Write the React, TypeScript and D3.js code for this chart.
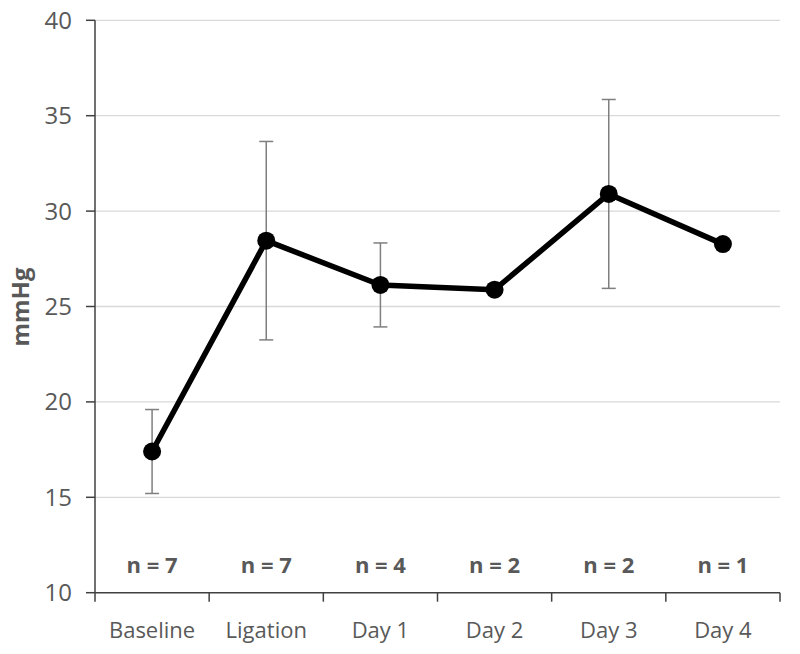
import React from "react";
import * as d3 from "d3";

const categories = ["Baseline", "Ligation", "Day 1", "Day 2", "Day 3", "Day 4"];
const means = [17.4, 28.45, 26.13, 25.88, 30.9, 28.27];
const sds = [2.2, 5.2, 2.2, 0, 4.95, 0];
const nLabels = ["n = 7", "n = 7", "n = 4", "n = 2", "n = 2", "n = 1"];
const yTicks = [10, 15, 20, 25, 30, 35, 40];

const W = 800;
const H = 654;
const left = 95;
const right = 780;
const top = 20.3;
const bottom = 592.7;
const font = "'Open Sans', sans-serif";
const textColor = "#595959";

export default function App() {
  const x = d3.scaleBand<string>().domain(categories).range([left, right]).padding(0);
  const y = d3.scaleLinear().domain([10, 40]).range([bottom, top]);
  const cx = (c: string) => (x(c) as number) + x.bandwidth() / 2;
  const line = d3
    .line<number>()
    .x((_, i) => cx(categories[i]))
    .y((d) => y(d));
  const boundaries = [...categories.map((c) => x(c) as number), right];

  return (
    <svg width={W} height={H} style={{ position: "absolute", left: 0, top: 0, background: "#fff" }}>
      {yTicks.filter((t) => t > 10).map((t) => (
        <line key={"g" + t} x1={left} x2={right} y1={y(t)} y2={y(t)} stroke="#d9d9d9" strokeWidth={1.3} />
      ))}
      {/* y axis */}
      <line x1={left} x2={left} y1={top} y2={bottom} stroke="#404040" strokeWidth={1.5} />
      {yTicks.map((t) => (
        <g key={"t" + t}>
          <line x1={left - 9} x2={left} y1={y(t)} y2={y(t)} stroke="#404040" strokeWidth={1.5} />
          <text x={72} y={y(t)} dy="0.35em" textAnchor="end" fontFamily={font} fontSize={24} fill={textColor}>
            {t}
          </text>
        </g>
      ))}
      {/* x axis */}
      <line x1={left} x2={right} y1={bottom} y2={bottom} stroke="#404040" strokeWidth={1.5} />
      {boundaries.map((b, i) => (
        <line key={"xt" + i} x1={b} x2={b} y1={bottom} y2={bottom + 9} stroke="#404040" strokeWidth={1.5} />
      ))}
      {categories.map((c) => (
        <text key={"c" + c} x={cx(c)} y={630} dy="0.35em" textAnchor="middle" fontFamily={font} fontSize={22} fill={textColor}>
          {c}
        </text>
      ))}
      {categories.map((c, i) => (
        <text key={"n" + c} x={cx(c)} y={565} dy="0.35em" textAnchor="middle" fontFamily={font} fontWeight="bold" fontSize={22} fill={textColor}>
          {nLabels[i]}
        </text>
      ))}
      <text
        transform={`translate(21,307) rotate(-90)`}
        dy="0.35em"
        textAnchor="middle"
        fontFamily={font}
        fontWeight="bold"
        fontSize={24}
        fill={textColor}
      >
        mmHg
      </text>
      {/* error bars */}
      {categories.map((c, i) =>
        sds[i] > 0 ? (
          <g key={"e" + c} stroke="#7f7f7f" strokeWidth={1.5}>
            <line x1={cx(c)} x2={cx(c)} y1={y(means[i] + sds[i])} y2={y(means[i] - sds[i])} />
            <line x1={cx(c) - 7} x2={cx(c) + 7} y1={y(means[i] + sds[i])} y2={y(means[i] + sds[i])} />
            <line x1={cx(c) - 7} x2={cx(c) + 7} y1={y(means[i] - sds[i])} y2={y(means[i] - sds[i])} />
          </g>
        ) : null
      )}
      <path d={line(means) as string} fill="none" stroke="#000" strokeWidth={5.5} strokeLinejoin="round" />
      {categories.map((c, i) => (
        <circle key={"p" + c} cx={cx(c)} cy={y(means[i])} r={9} fill="#000" />
      ))}
    </svg>
  );
}
